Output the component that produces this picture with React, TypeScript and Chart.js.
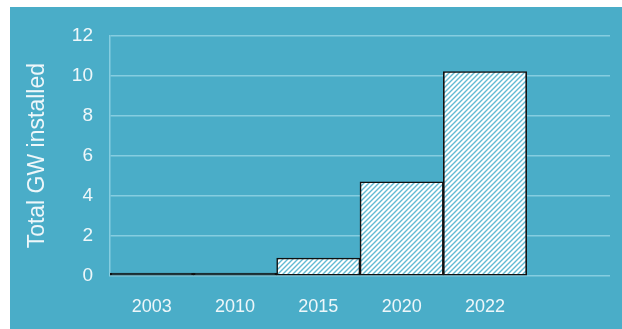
import React, { useEffect, useRef } from "react";
import { Chart, registerables } from "chart.js";

Chart.register(...registerables);

const categories = ["2003", "2010", "2015", "2020", "2022", ""];
const installedGW = [0.15, 0.15, 0.9, 4.7, 10.2, null];
const yTicks = [0, 2, 4, 6, 8, 10, 12];

const BG = "#4aadc8";
const GRID = "#86cde0";
const TEXT = "#eef7fa";

function makePattern(): CanvasPattern | string {
  const s = 5;
  const c = document.createElement("canvas");
  c.width = s;
  c.height = s;
  const g = c.getContext("2d");
  if (!g) return "#ffffff";
  g.fillStyle = "#ffffff";
  g.fillRect(0, 0, s, s);
  g.strokeStyle = "#62bbd3";
  g.lineWidth = 1.4;
  g.beginPath();
  g.moveTo(-1, s + 1);
  g.lineTo(s + 1, -1);
  g.moveTo(-1, 1);
  g.lineTo(1, -1);
  g.moveTo(s - 1, s + 1);
  g.lineTo(s + 1, s - 1);
  g.stroke();
  const p = g.createPattern(c, "repeat");
  return p || "#ffffff";
}

export default function App() {
  const ref = useRef<HTMLCanvasElement | null>(null);
  useEffect(() => {
    document.body.style.margin = "0";
    if (!ref.current) return;
    const ctx = ref.current.getContext("2d");
    if (!ctx) return;
    const pattern = makePattern();
    const fills = installedGW.map((v) => (v !== null && v < 0.5 ? "#111111" : pattern));
    const chart = new Chart(ctx, {
      type: "bar",
      data: {
        labels: categories,
        datasets: [
          {
            data: installedGW,
            backgroundColor: fills as any,
            borderColor: "#111111",
            borderWidth: 1.6,
            borderSkipped: false,
            barPercentage: 1,
            categoryPercentage: 1,
          },
        ],
      },
      options: {
        responsive: false,
        animation: false,
        maintainAspectRatio: false,
        layout: { padding: { top: 27, right: 12, bottom: 0, left: 0 } },
        plugins: { legend: { display: false }, tooltip: { enabled: false } },
        scales: {
          x: {
            grid: { display: false, drawTicks: false },
            border: { display: false },
            ticks: {
              color: TEXT,
              font: { family: "Liberation Sans, Arial, sans-serif", size: 18 },
              padding: 20,
            },
            afterFit: (a: any) => {
              a.height = 53;
            },
          },
          y: {
            min: 0,
            max: 12,
            afterBuildTicks: (a: any) => {
              a.ticks = yTicks.map((v) => ({ value: v }));
            },
            grid: { color: GRID, lineWidth: 1.5, drawTicks: false },
            border: { display: true, color: GRID, width: 1.5 },
            ticks: {
              color: TEXT,
              font: { family: "Liberation Sans, Arial, sans-serif", size: 19 },
              padding: 17,
            },
            title: {
              display: true,
              text: "Total GW installed",
              color: TEXT,
              font: { family: "Liberation Sans, Arial, sans-serif", size: 23 },
              padding: { top: 14, bottom: 0 },
            },
            afterFit: (a: any) => {
              a.width = 100;
            },
          },
        },
      },
    });
    return () => chart.destroy();
  }, []);
  return (
    <div style={{ position: "fixed", left: 0, top: 0, width: 622, height: 329, background: "#ffffff" }}>
      <canvas
        ref={ref}
        width={612}
        height={322}
        style={{ position: "absolute", left: 10, top: 7, width: 612, height: 322, background: BG }}
      />
    </div>
  );
}
